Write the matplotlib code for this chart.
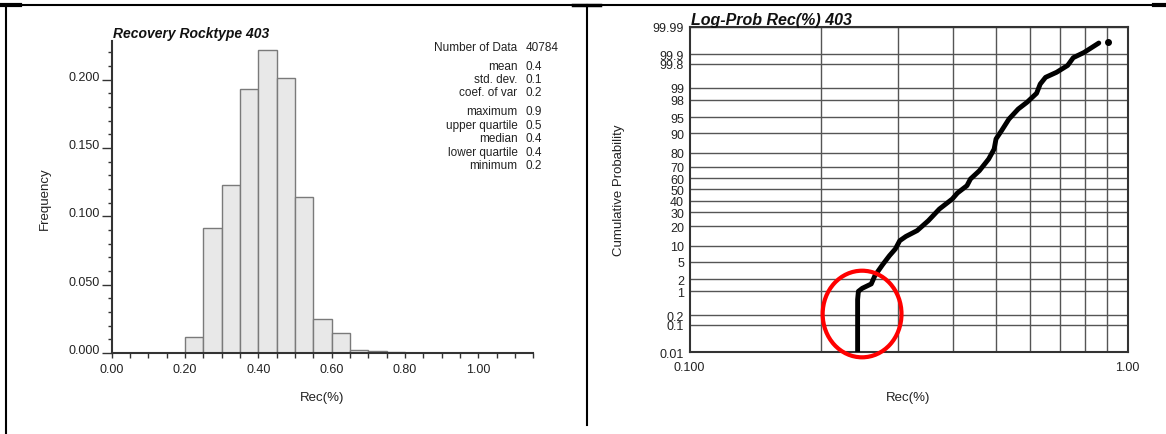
import numpy as np
import matplotlib
matplotlib.use('Agg')
import matplotlib.pyplot as plt
from matplotlib.patches import Ellipse
from matplotlib.lines import Line2D
from statistics import NormalDist

plt.rcParams['font.family'] = ['Liberation Sans', 'DejaVu Sans']

# histogram of Rec(%), bins of 0.05
bin_left = [0.20, 0.25, 0.30, 0.35, 0.40, 0.45, 0.50, 0.55, 0.60, 0.65, 0.70, 0.75]
frequency = [0.0115, 0.0912, 0.1229, 0.1932, 0.2220, 0.2010, 0.1141, 0.0246, 0.0149, 0.0020, 0.0017, 0.0007]
bin_width = 0.05

# summary statistics block
stat_names = ['Number of Data', 'mean', 'std. dev.', 'coef. of var',
              'maximum', 'upper quartile', 'median', 'lower quartile', 'minimum']
stat_values = ['40784', '0.4', '0.1', '0.2', '0.9', '0.5', '0.4', '0.4', '0.2']

# cumulative probability curve (Rec, %)
rec_values = [0.242, 0.242, 0.243, 0.248, 0.260, 0.265, 0.276, 0.286, 0.295, 0.302, 0.312,
              0.331, 0.351, 0.372, 0.398, 0.409, 0.430, 0.438, 0.459, 0.482, 0.496, 0.501,
              0.516, 0.536, 0.563, 0.590, 0.620, 0.632, 0.650, 0.689, 0.730, 0.752, 0.796, 0.860]
cum_prob = [0.01, 0.6, 1.0, 1.2, 1.55, 2.45, 4.3, 6.5, 8.7, 12.1, 14.2,
            17.4, 23.8, 32.8, 41.4, 46.8, 53.5, 59.5, 66.6, 75.7, 82.2, 87.6,
            91.1, 94.6, 96.7, 97.7, 98.6, 99.2, 99.48, 99.63, 99.77, 99.87, 99.913, 99.959]
outlier_rec = [0.903]
outlier_prob = [99.961]

prob_ticks = [0.01, 0.1, 0.2, 1, 2, 5, 10, 20, 30, 40, 50, 60, 70, 80, 90, 95, 98, 99, 99.8, 99.9, 99.99]
prob_labels = ['0.01', '0.1', '0.2', '1', '2', '5', '10', '20', '30', '40', '50', '60',
               '70', '80', '90', '95', '98', '99', '99.8', '99.9', '99.99']

W, H = 1166, 435
TEXT = '#222222'
AXC = '#333333'

_nd = NormalDist()


def prob_forward(p):
    # percent -> normal score
    p = np.clip(np.asarray(p, dtype=float) / 100.0, 1e-9, 1 - 1e-9)
    return np.vectorize(_nd.inv_cdf, otypes=[float])(p)


def prob_inverse(z):
    return np.vectorize(_nd.cdf, otypes=[float])(np.asarray(z, dtype=float)) * 100.0


def fx(px):
    return px / W


def fy(py):
    return 1 - py / H


def draw_histogram(fig):
    ax = fig.add_axes([fx(111.8), fy(354), 421.5 / W, 311.6 / H])
    ax.bar(bin_left, frequency, width=bin_width, align='edge',
           facecolor='#e8e8e8', edgecolor='#7a7a7a', linewidth=1.0, zorder=2)

    ax.set_xlim(0, 1.15)
    ax.set_ylim(0, 0.228)

    # only left and bottom axis lines
    for side in ['top', 'right']:
        ax.spines[side].set_visible(False)
    for side in ['left', 'bottom']:
        ax.spines[side].set_color(AXC)
        ax.spines[side].set_linewidth(1.5)
        ax.spines[side].set_zorder(3)

    ax.set_xticks(np.arange(0, 1.01, 0.2))
    ax.set_xticklabels(['0.00', '0.20', '0.40', '0.60', '0.80', '1.00'])
    ax.set_xticks(np.arange(0, 1.151, 0.05), minor=True)
    ax.set_yticks(np.arange(0, 0.201, 0.05))
    ax.set_yticklabels(['0.000', '0.050', '0.100', '0.150', '0.200'])
    ax.set_yticks(np.arange(0, 0.228, 0.01), minor=True)

    ax.tick_params(axis='x', which='both', direction='out', length=3.6, width=1.0,
                   color=AXC, pad=3.5, labelsize=9, labelcolor=TEXT)
    ax.tick_params(axis='y', which='major', direction='out', length=7.5, width=1.0,
                   color=AXC, pad=1.0, labelsize=9, labelcolor=TEXT)
    ax.tick_params(axis='y', which='minor', direction='out', length=3.0, width=1.0, color=AXC)
    for lbl in ax.get_yticklabels():
        lbl.set_va('baseline')

    ax.set_xlabel('Rec(%)', fontsize=9.5, color=TEXT, va='center')
    ax.xaxis.set_label_coords(0.5, (354 - 398) / 311.6)
    ax.set_ylabel('Frequency', fontsize=9.5, color=TEXT, va='center')
    ax.yaxis.set_label_coords((45 - 111.8) / 421.5, 0.5)

    fig.text(fx(113), fy(38), 'Recovery Rocktype 403', fontsize=10, fontweight='bold',
             fontstyle='italic', color='#111111', va='baseline', ha='left')

    # statistics block, names right aligned, values left aligned
    row_y = 47.7
    for i, (name, val) in enumerate(zip(stat_names, stat_values)):
        if i in (1, 4):
            row_y += 5.6
        fig.text(fx(517.5), fy(row_y), name, fontsize=8.5, color=TEXT, ha='right', va='center')
        fig.text(fx(525.8), fy(row_y), val, fontsize=8.5, color=TEXT, ha='left', va='center')
        row_y += 13.4


def draw_logprob(fig):
    ax = fig.add_axes([fx(689.5), fy(353.3), 438 / W, 325.6 / H])
    ax.set_xscale('log')
    ax.set_yscale('function', functions=(prob_forward, prob_inverse))
    ax.set_xlim(0.1, 1.0)
    ax.set_ylim(0.01, 99.99)

    ax.plot(rec_values, cum_prob, color='black', linewidth=3.5,
            solid_joinstyle='round', solid_capstyle='round', zorder=3)
    ax.plot(outlier_rec, outlier_prob, 'o', color='black', markersize=4, zorder=3)

    # grid
    ax.set_xticks([0.1, 1.0])
    ax.set_xticklabels(['0.100', '1.00'])
    ax.set_xticks([0.2, 0.3, 0.4, 0.5, 0.6, 0.7, 0.8, 0.9], minor=True)
    ax.xaxis.set_minor_formatter(plt.NullFormatter())
    ax.set_yticks(prob_ticks)
    ax.set_yticklabels(prob_labels)
    ax.yaxis.set_minor_locator(plt.NullLocator())
    ax.grid(True, axis='x', which='minor', color='#555555', linewidth=1.0)
    ax.grid(True, axis='y', which='major', color='#555555', linewidth=1.0)
    ax.set_axisbelow(True)

    for side in ax.spines:
        ax.spines[side].set_color(AXC)
        ax.spines[side].set_linewidth(1.5)

    ax.tick_params(axis='both', which='both', length=0, labelsize=9, labelcolor=TEXT)
    ax.tick_params(axis='x', pad=6)
    ax.tick_params(axis='y', pad=4)

    ax.set_xlabel('Rec(%)', fontsize=9.5, color=TEXT, va='center')
    ax.xaxis.set_label_coords(0.5, (353.3 - 398) / 325.6)
    ax.set_ylabel('Cumulative Probability', fontsize=9.5, color=TEXT, va='center')
    ax.yaxis.set_label_coords((619.4 - 689.5) / 438, 0.5)

    # red circle around the low tail
    ax.add_patch(Ellipse((0.394, 0.1176), 0.180, 0.266, transform=ax.transAxes,
                         fill=False, edgecolor='#ff0000', linewidth=3, clip_on=False, zorder=5))

    fig.text(fx(691), fy(24.5), 'Log-Prob Rec(%) 403', fontsize=11.5, fontweight='bold',
             fontstyle='italic', color='#111111', va='baseline', ha='left')


def draw_borders(fig):
    # table cell borders around the two charts
    kw = dict(transform=fig.transFigure, color='black')
    fig.add_artist(Line2D([0, 1], [fy(5.5), fy(5.5)], linewidth=1.5, **kw))
    fig.add_artist(Line2D([0, fx(20)], [fy(5.5), fy(5.5)], linewidth=3, **kw))
    fig.add_artist(Line2D([fx(573), fx(600)], [fy(5.5), fy(5.5)], linewidth=2.5, **kw))
    fig.add_artist(Line2D([fx(1154), 1], [fy(5.5), fy(5.5)], linewidth=3, **kw))
    fig.add_artist(Line2D([fx(6), fx(6)], [fy(5.5), 0], linewidth=1.5, **kw))
    fig.add_artist(Line2D([fx(587), fx(587)], [fy(5.5), fy(426)], linewidth=1.5, **kw))


fig = plt.figure(figsize=(W / 100, H / 100), dpi=100)
draw_histogram(fig)
draw_logprob(fig)
draw_borders(fig)
fig.savefig('out.png', dpi=100)
